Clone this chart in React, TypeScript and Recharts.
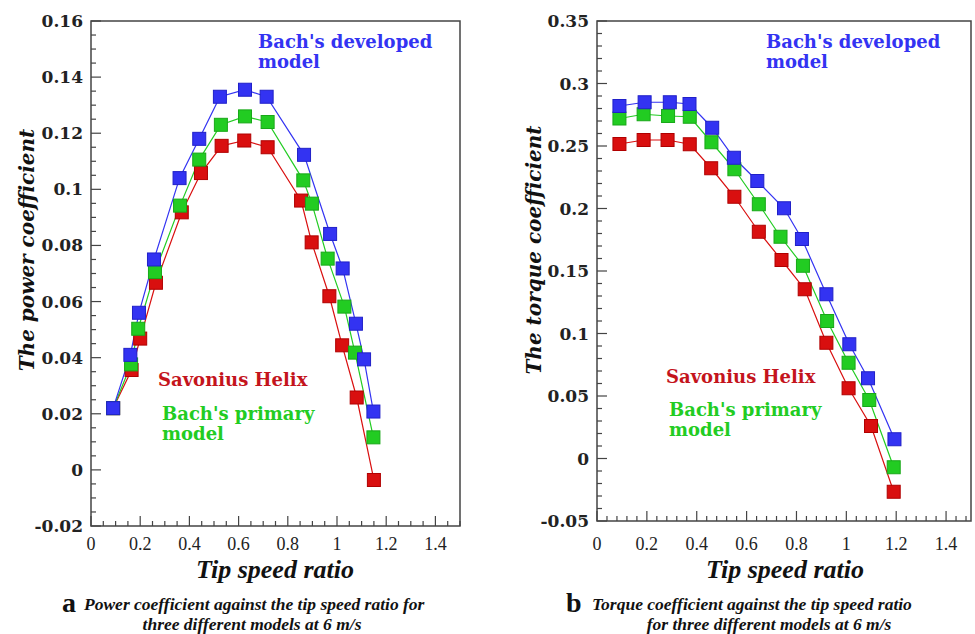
import { LineChart, Line, XAxis, YAxis, ReferenceArea } from "recharts";

const BLUE = "#3333f2";
const GREEN = "#22cc22";
const RED = "#d90f0f";
const AXIS = "#444";

// panel a: power coefficient vs tip speed ratio
const tsrBlueA = [0.09, 0.16, 0.195, 0.256, 0.36, 0.44, 0.524, 0.626, 0.714, 0.866, 0.972, 1.023, 1.077, 1.11, 1.148];
const cpBlue = [0.022, 0.041, 0.056, 0.075, 0.104, 0.118, 0.133, 0.1355, 0.133, 0.1123, 0.0841, 0.0718, 0.0521, 0.0394, 0.0208];
const tsrGreenA = [0.09, 0.163, 0.192, 0.26, 0.362, 0.44, 0.528, 0.626, 0.718, 0.863, 0.898, 0.962, 1.03, 1.073, 1.148];
const cpGreen = [0.022, 0.0376, 0.0503, 0.0705, 0.0942, 0.1106, 0.123, 0.126, 0.124, 0.1032, 0.0949, 0.0753, 0.0582, 0.0418, 0.0116];
const tsrRedA = [0.09, 0.165, 0.2, 0.264, 0.369, 0.447, 0.531, 0.623, 0.718, 0.854, 0.897, 0.969, 1.021, 1.08, 1.15];
const cpRed = [0.022, 0.0356, 0.0468, 0.0667, 0.0918, 0.1058, 0.1155, 0.1174, 0.115, 0.096, 0.0811, 0.0619, 0.0444, 0.0258, -0.0036];

// panel b: torque coefficient vs tip speed ratio
const tsrBlueB = [0.09, 0.191, 0.292, 0.371, 0.462, 0.549, 0.643, 0.75, 0.822, 0.92, 1.012, 1.087, 1.193];
const ctBlue = [0.282, 0.285, 0.285, 0.2836, 0.2646, 0.2406, 0.222, 0.2002, 0.1756, 0.1314, 0.0914, 0.0642, 0.0154];
const tsrGreenB = [0.09, 0.187, 0.285, 0.372, 0.459, 0.551, 0.649, 0.736, 0.826, 0.923, 1.009, 1.092, 1.19];
const ctGreen = [0.272, 0.2754, 0.274, 0.2734, 0.253, 0.2314, 0.2034, 0.1774, 0.1542, 0.11, 0.0766, 0.0468, -0.007];
const tsrRedB = [0.09, 0.187, 0.283, 0.372, 0.458, 0.551, 0.649, 0.74, 0.833, 0.92, 1.009, 1.099, 1.19];
const ctRed = [0.2516, 0.2548, 0.2548, 0.2514, 0.2322, 0.2094, 0.1814, 0.1588, 0.1354, 0.0926, 0.0562, 0.026, -0.0266];

// labelled (major) ticks
const xMajor = [0, 0.2, 0.4, 0.6, 0.8, 1, 1.2, 1.4];
const yMajorA = [-0.02, 0, 0.02, 0.04, 0.06, 0.08, 0.1, 0.12, 0.14, 0.16];
const yMajorB = [-0.05, 0, 0.05, 0.1, 0.15, 0.2, 0.25, 0.3, 0.35];

const pts = (xs: number[], ys: number[]) => xs.map((x, i) => ({ x, y: ys[i] }));

// minor tick positions between min and max
function steps(min: number, max: number, step: number) {
  const out: number[] = [];
  const n = Math.round((max - min) / step);
  for (let i = 0; i <= n; i++) out.push(Number((min + i * step).toFixed(4)));
  return out;
}

const fmt = (v: number) => String(Number(v.toFixed(3)));
const isIn = (list: number[], v: number) => list.some((m) => Math.abs(m - v) < 1e-6);

function xTick(major: number[], labelDy: number) {
  return (p: any) => {
    const v = p.payload.value;
    const big = isIn(major, v);
    return (
      <g key={`x-${p.index}`}>
        <line x1={p.x} x2={p.x} y1={p.y} y2={p.y - (big ? 10 : 5)} stroke={AXIS} strokeWidth={1.2} />
        {big && (
          <text x={p.x} y={p.y + labelDy} textAnchor="middle" fontFamily="Liberation Serif" fontSize={18} fill="#222">
            {fmt(v)}
          </text>
        )}
      </g>
    );
  };
}

function yTick(major: number[]) {
  return (p: any) => {
    const v = p.payload.value;
    const big = isIn(major, v);
    return (
      <g key={`y-${p.index}`}>
        <line x1={p.x} x2={p.x + (big ? 10 : 5)} y1={p.y} y2={p.y} stroke={AXIS} strokeWidth={1.2} />
        {big && (
          <text x={p.x - 8} y={p.y + 6} textAnchor="end" fontFamily="DejaVu Serif" fontWeight="bold" fontSize={17} fill="#222">
            {fmt(v)}
          </text>
        )}
      </g>
    );
  };
}

const square = (fill: string, stroke: string) => (p: any) => (
  <rect key={`d-${p.index}`} x={p.cx - 6.5} y={p.cy - 6.5} width={13} height={13} fill={fill} stroke={stroke} strokeWidth={1} />
);

function Panel(props: {
  width: number;
  height: number;
  margin: { top: number; left: number; right: number; bottom: number };
  yDomain: [number, number];
  yMajor: number[];
  yStep: number;
  xStep: number;
  labelDy: number;
  red: { x: number; y: number }[];
  green: { x: number; y: number }[];
  blue: { x: number; y: number }[];
}) {
  const { yDomain } = props;
  return (
    <LineChart width={props.width} height={props.height} margin={props.margin}>
      <XAxis
        dataKey="x"
        type="number"
        domain={[0, 1.5]}
        ticks={steps(0, 1.5, props.xStep)}
        interval={0}
        height={1}
        tickSize={0}
        tickMargin={0}
        axisLine={false}
        tickLine={false}
        tick={xTick(xMajor, props.labelDy)}
      />
      <YAxis
        type="number"
        domain={yDomain}
        ticks={steps(yDomain[0], yDomain[1], props.yStep)}
        interval={0}
        width={1}
        tickSize={0}
        tickMargin={0}
        axisLine={false}
        tickLine={false}
        tick={yTick(props.yMajor)}
      />
      <ReferenceArea x1={0} x2={1.5} y1={yDomain[0]} y2={yDomain[1]} fill="none" stroke={AXIS} strokeWidth={1.5} />
      <Line data={props.red} dataKey="y" stroke={RED} strokeWidth={1.2} dot={square(RED, "#b00000")} activeDot={false} isAnimationActive={false} />
      <Line data={props.green} dataKey="y" stroke={GREEN} strokeWidth={1.2} dot={square(GREEN, "#18a818")} activeDot={false} isAnimationActive={false} />
      <Line data={props.blue} dataKey="y" stroke={BLUE} strokeWidth={1.2} dot={square(BLUE, "#2020c8")} activeDot={false} isAnimationActive={false} />
    </LineChart>
  );
}

const note = { fontFamily: "DejaVu Serif", fontWeight: "bold" as const, fontSize: 18 };
const cap = { fontFamily: "Liberation Serif", fontStyle: "italic", fontWeight: "bold" as const, fontSize: 17.5, fill: "#111" };
const axTitle = { fontFamily: "Liberation Serif", fontStyle: "italic", fontWeight: "bold" as const, fontSize: 26, fill: "#111" };
const yTitle = { fontFamily: "DejaVu Serif", fontStyle: "italic", fontWeight: "bold" as const, fontSize: 20, fill: "#111" };

export default function App() {
  return (
    <div style={{ position: "absolute", left: 0, top: 0, width: 975, height: 634, background: "#fff" }}>
      <div style={{ position: "absolute", left: 0, top: 0 }}>
        <Panel
          width={480}
          height={560}
          margin={{ top: 21, left: 90, right: 20, bottom: 33 }}
          yDomain={[-0.02, 0.16]}
          yMajor={yMajorA}
          yStep={0.005}
          xStep={0.05}
          labelDy={24}
          red={pts(tsrRedA, cpRed)}
          green={pts(tsrGreenA, cpGreen)}
          blue={pts(tsrBlueA, cpBlue)}
        />
      </div>
      <div style={{ position: "absolute", left: 490, top: 0 }}>
        <Panel
          width={485}
          height={560}
          margin={{ top: 21, left: 106, right: 4, bottom: 38 }}
          yDomain={[-0.05, 0.35]}
          yMajor={yMajorB}
          yStep={0.01}
          xStep={0.04}
          labelDy={29}
          red={pts(tsrRedB, ctRed)}
          green={pts(tsrGreenB, ctGreen)}
          blue={pts(tsrBlueB, ctBlue)}
        />
      </div>
      <svg width={975} height={634} style={{ position: "absolute", left: 0, top: 0, pointerEvents: "none" }}>
        {/* panel a texts */}
        <text x={258} y={48} fill={BLUE} {...note}>Bach's developed</text>
        <text x={258} y={68} fill={BLUE} {...note}>model</text>
        <text x={158} y={386} fill="#c4141c" {...note}>Savonius Helix</text>
        <text x={162} y={420} fill={GREEN} {...note}>Bach's primary</text>
        <text x={162} y={440} fill={GREEN} {...note}>model</text>
        <text transform="translate(34,250) rotate(-90)" textAnchor="middle" {...yTitle}>The power coefficient</text>
        <text x={275} y={578} textAnchor="middle" {...axTitle}>Tip speed ratio</text>
        <text x={62} y={612} fontFamily="Liberation Serif" fontWeight="bold" fontSize={28} fill="#111">a</text>
        <text x={84} y={610} {...cap}>Power coefficient against the tip speed ratio for</text>
        <text x={252} y={630} textAnchor="middle" {...cap}>three different models at 6 m/s</text>

        {/* panel b texts */}
        <text x={766} y={48} fill={BLUE} {...note}>Bach's developed</text>
        <text x={766} y={68} fill={BLUE} {...note}>model</text>
        <text x={666} y={383} fill="#c4141c" {...note}>Savonius Helix</text>
        <text x={669} y={416} fill={GREEN} {...note}>Bach's primary</text>
        <text x={669} y={436} fill={GREEN} {...note}>model</text>
        <text transform="translate(541,250) rotate(-90)" textAnchor="middle" {...yTitle}>The torque coefficient</text>
        <text x={785} y={578} textAnchor="middle" {...axTitle}>Tip speed ratio</text>
        <text x={566} y={612} fontFamily="Liberation Serif" fontWeight="bold" fontSize={28} fill="#111">b</text>
        <text x={592} y={610} {...cap}>Torque coefficient against the tip speed ratio</text>
        <text x={769} y={630} textAnchor="middle" {...cap}>for three different models at 6 m/s</text>
      </svg>
    </div>
  );
}
